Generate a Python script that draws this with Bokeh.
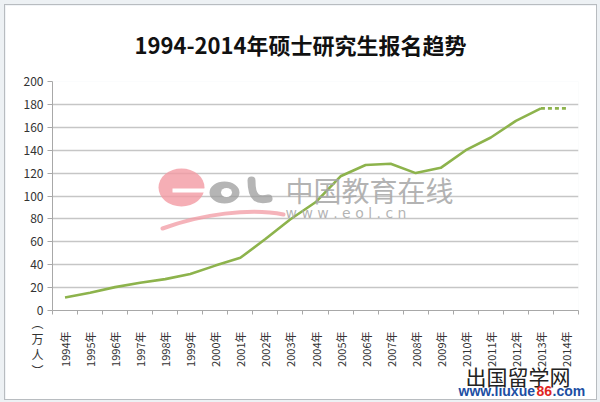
import math
from bokeh.plotting import figure
from bokeh.models import FixedTicker, Label, ColumnDataSource, Range1d
from bokeh.layouts import column
from bokeh.embed import file_html
from bokeh.resources import INLINE

# ---- data ----
years = [str(y) for y in range(1994, 2015)]
tick_labels = [y + "年" for y in years]
applicants = [11.4, 15.5, 20.4, 24.2, 27.4, 31.9, 39.2, 46.0, 62.4, 79.7, 94.5,
              117.2, 127.1, 128.2, 120.0, 124.6, 140.0, 151.1, 165.6, 176.5, 176.5]
y_ticks = list(range(0, 201, 20))
title_text = "1994-2014年硕士研究生报名趋势"
unit_text = "︵\n万\n人\n︶"

CJK = "Noto Sans CJK SC"
LINE_COLOR = "#8db34c"

FL, FR, FT, FB = 52, 578, 81, 310
OX, OY = 5, 5
W, H = 591, 394
N = len(years)


def dx(px):
    return -0.5 + (px - FL) / (FR - FL) * N


def dy(py):
    return (FB - py) / (FB - FT) * 200.0


xs = list(range(N))
solid = ColumnDataSource(dict(x=xs[:-1], y=applicants[:-1]))
dashed = ColumnDataSource(dict(x=xs[-2:], y=applicants[-2:]))

p = figure(width=W, height=H, output_backend="svg", toolbar_location=None,
           x_range=Range1d(-0.5, N - 0.5), y_range=Range1d(0, 200),
           min_border_left=FL - OX, min_border_right=OX + W - FR,
           min_border_top=FT - OY, min_border_bottom=OY + H - FB)
p.outline_line_color = None
p.background_fill_color = "white"
p.border_fill_color = "white"

p.xgrid.grid_line_color = None
p.ygrid.grid_line_color = "#c6c6c6"
p.ygrid.grid_line_width = 1.6
p.ygrid.ticker = FixedTicker(ticks=y_ticks)

p.yaxis.ticker = FixedTicker(ticks=y_ticks)
p.yaxis.axis_line_color = "#a8a8a8"
p.yaxis.major_tick_line_color = "#a8a8a8"
p.yaxis.major_tick_out = 5
p.yaxis.major_tick_in = 0
p.yaxis.minor_tick_line_color = None
p.yaxis.major_label_text_font = CJK
p.yaxis.major_label_text_font_size = "12px"
p.yaxis.major_label_text_color = "#333333"
p.yaxis.major_label_standoff = 4

p.xaxis.ticker = FixedTicker(ticks=xs, minor_ticks=[i - 0.5 for i in range(N + 1)])
p.xaxis.major_label_overrides = {i: t for i, t in enumerate(tick_labels)}
p.xaxis.major_label_orientation = math.pi / 2
p.xaxis.axis_line_color = "#a8a8a8"
p.xaxis.major_tick_line_color = None
p.xaxis.minor_tick_line_color = "#a8a8a8"
p.xaxis.minor_tick_out = 4
p.xaxis.minor_tick_in = 0
p.xaxis.major_label_text_font = CJK
p.xaxis.major_label_text_font_size = "11px"
p.xaxis.major_label_text_color = "#333333"
p.xaxis.major_label_standoff = 15

# ---- eol watermark ----
pink = "#f29aa3"
p.ellipse(x=dx(181), y=dy(187), width=46 / 25.05, height=38 / 1.1465,
          fill_color=pink, fill_alpha=0.8, line_color=None)
p.quad(left=dx(172), right=dx(208), top=dy(188), bottom=dy(192),
       fill_color="white", line_color=None)
p.ellipse(x=dx(224), y=dy(192), width=30 / 25.05, height=22 / 1.1465,
          fill_color="#9c9c9c", fill_alpha=0.75, line_color=None)
p.ellipse(x=dx(226), y=dy(192), width=11 / 25.05, height=9 / 1.1465,
          fill_color="white", line_color=None)
p.bezier(x0=dx(251), y0=dy(180), x1=dx(268), y1=dy(198),
         cx0=dx(251), cy0=dy(199), cx1=dx(258), cy1=dy(200),
         line_color="#9c9c9c", line_alpha=0.75, line_width=8, line_cap="round")
p.bezier(x0=dx(162), y0=dy(228), x1=dx(283), y1=dy(214),
         cx0=dx(200), cy0=dy(214), cx1=dx(250), cy1=dy(207),
         line_color=pink, line_alpha=0.75, line_width=4, line_cap="round")

p.add_layout(Label(x=dx(285), y=dy(189), text="中国教育在线", text_font=CJK,
                   text_font_size="28px", text_color="#a6a6a6", text_alpha=0.85,
                   text_align="left", text_baseline="middle"))
p.add_layout(Label(x=dx(285), y=dy(212), text="w w w . e o l . c n", text_font="DejaVu Sans",
                   text_font_size="14px", text_color="#a6a6a6", text_alpha=0.85,
                   text_align="left", text_baseline="middle"))

# ---- series ----
p.line("x", "y", source=solid, line_color=LINE_COLOR, line_width=2.6)
p.line("x", "y", source=dashed, line_color=LINE_COLOR, line_width=2.6, line_dash="4 3")

# ---- texts outside the frame (side-panel annotations are not clipped) ----
p.add_layout(Label(x=dx(300), y=dy(43), text=title_text, text_font=CJK,
                   text_font_size="22px", text_font_style="bold", text_color="#111111",
                   text_align="center", text_baseline="middle"), "above")
p.add_layout(Label(x=dx(37), y=dy(346), text=unit_text, text_font=CJK,
                   text_font_size="12px", text_color="#333333", text_line_height=0.95,
                   text_align="center", text_baseline="middle"), "left")
p.add_layout(Label(x=dx(465), y=dy(375), text="出国留学网", text_font=CJK,
                   text_font_size="21px", text_color="#222222",
                   text_align="left", text_baseline="middle"), "below")
site_parts = [("www.liuxue", 458, "#1c4ea3", "above"),
              ("86", 536, "#e0261f", "right"),
              (".com", 552, "#1c4ea3", "above")]
for txt, px, col, side in site_parts:
    p.add_layout(Label(x=dx(px), y=dy(390), text=txt, text_font="Liberation Sans",
                       text_font_size="14px", text_font_style="bold", text_color=col,
                       text_align="left", text_baseline="middle"), side)

p.styles = {"outline": "1px solid #b8bcc0"}
root = column(p, styles={"background-color": "#edf1f4", "padding": "5px 4px 3px 5px"})

open("out.html", "w").write(file_html(root, INLINE))
